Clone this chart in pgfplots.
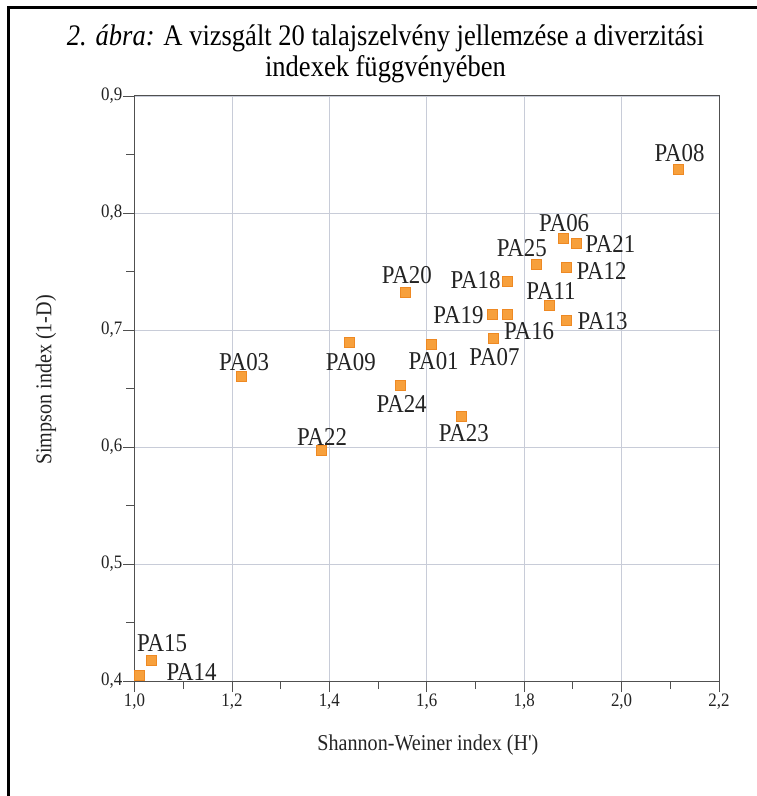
\documentclass[border=0pt]{standalone}
\usepackage{fontspec}
\setmainfont[FakeStretch=0.89]{Liberation Serif}
\newfontfamily\qfont[FakeStretch=0.89]{Liberation Serif}
\usepackage{pgfplots}
\pgfplotsset{compat=1.18}
\usepackage{pgfplotstable}

\definecolor{markfill}{RGB}{247,160,60}
\definecolor{markdraw}{RGB}{238,137,35}
\definecolor{gridc}{RGB}{200,204,216}
\definecolor{axc}{RGB}{80,80,80}
\definecolor{txt}{RGB}{35,35,35}

% x = Shannon-Weiner H', y = Simpson 1-D, dx/dy = label offset (pt)
\pgfplotstableread{
x     y      name  dx    dy
2.117 0.837  PA08  1     16.3
1.880 0.778  PA06  1     16
1.907 0.774  PA21  34    -1
1.824 0.756  PA25  -14   16
1.887 0.754  PA12  35    -4.5
1.766 0.742  PA18  -32   1
1.555 0.732  PA20  2     17
1.851 0.721  PA11  2     14
1.735 0.7135 PA19  -34   -0.7
1.766 0.7135 PA16  21.5  -17
1.887 0.7086 PA13  36    -1
1.737 0.6927 PA07  1     -18.3
1.442 0.6893 PA09  1     -20
1.610 0.6881 PA01  2     -17.3
1.220 0.6608 PA03  2.5   14
1.545 0.6531 PA24  1.7   -18.8
1.671 0.6266 PA23  2.5   -16.8
1.383 0.597  PA22  1     13.7
1.034 0.418  PA15  11    16.7
1.009 0.405  PA14  52.7  3.3
}\soils

\begin{document}
\begin{tikzpicture}
\useasboundingbox (-134.5pt,-115pt) rectangle (622.5pt,681pt);
\begin{axis}[
  at={(0pt,0pt)}, anchor=south west,
  scale only axis, width=584.5pt, height=585pt,
  xmin=1, xmax=2.2, ymin=0.4, ymax=0.9,
  xtick={1,1.2,1.4,1.6,1.8,2,2.2},
  ytick={0.4,0.5,0.6,0.7,0.8,0.9},
  minor xtick={1.1,1.3,1.5,1.7,1.9,2.1},
  minor ytick={0.45,0.55,0.65,0.75,0.85},
  grid=major, major grid style={gridc, line width=0.8pt},
  axis line style={axc, line width=1pt},
  tick align=outside, tick pos=left,
  major tick length=11pt, minor tick length=8pt,
  tick style={axc, line width=0.8pt},
  /pgf/number format/assume math mode=true,
  /pgf/number format/use comma,
  /pgf/number format/fixed,
  /pgf/number format/fixed zerofill,
  /pgf/number format/precision=1,
  ticklabel style={font=\fontsize{19}{19}\selectfont, text=txt},
  xticklabel style={inner sep=2pt},
  yticklabel style={inner sep=1pt},
  xlabel={Shannon-Weiner index (H{\qfont'})},
  ylabel={Simpson index (1-D)},
  label style={font=\fontsize{22.6}{24}\selectfont, text=txt},
  x label style={at={(axis description cs:0.502,-0.1094)}, anchor=center},
  y label style={at={(axis description cs:-0.1514,0.5145)}, anchor=center},
  clip=false,
]
\addplot[only marks, mark=square*, mark size=5pt,
  mark options={fill=markfill, draw=markdraw, line width=0.6pt},
  point meta=explicit symbolic,
  nodes near coords, nodes near coords align={center},
  visualization depends on={\thisrow{dx} \as \dx},
  visualization depends on={\thisrow{dy} \as \dy},
  every node near coord/.append style={anchor=center, xshift=\dx pt, yshift=\dy pt,
    font=\fontsize{25.7}{26}\selectfont, text=txt, inner sep=0pt},
] table[x=x, y=y, meta=name] {\soils};
\end{axis}
\node[align=center, font=\fontsize{29.8}{31.5}\selectfont, text=black]
  at (251pt,627pt) {\textit{2. ábra:} A vizsgált 20 talajszelvény jellemzése a diverzitási\\indexek függvényében};
\draw[line width=2.5pt] (-126pt,-120pt) -- (-126pt,673.5pt) -- (630pt,673.5pt);
\end{tikzpicture}
\end{document}
